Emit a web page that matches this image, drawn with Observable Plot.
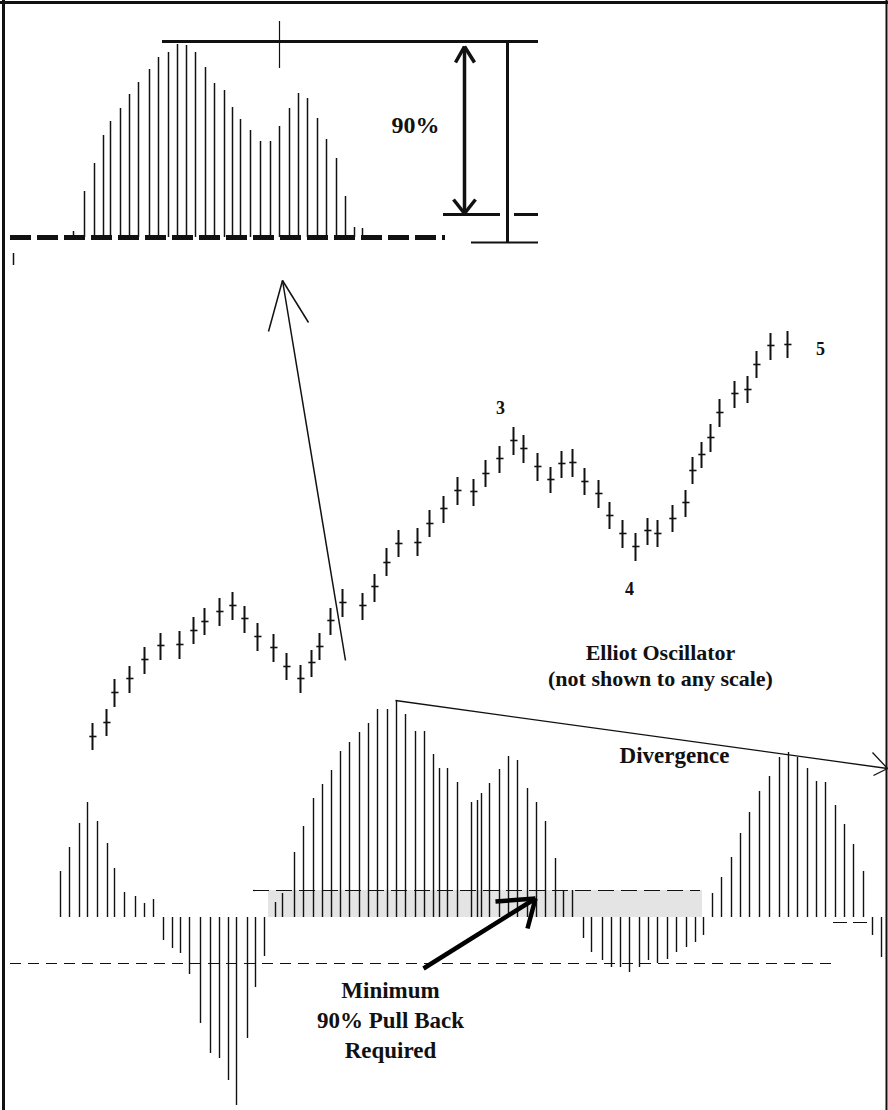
<!DOCTYPE html>
<html><head><meta charset="utf-8">
<script src="https://cdn.jsdelivr.net/npm/d3@7"></script>
<script src="https://cdn.jsdelivr.net/npm/@observablehq/plot@0.6"></script>
<style>
body{margin:0;background:#fff;}
#chart{position:relative;width:888px;height:1110px;overflow:hidden;background:#fff;}
#chart svg{position:absolute;left:0;top:0;}
</style></head><body><div id="chart"></div>
<script>
// ---------- Price bars (wave 1..5) ----------
const priceT = [92,106,114,129,144,160,179,193,204,219,232,244,257,273,286,300,311,319,330,342,362,374,386,398,417,429,443,457,473,485,499,513,523,537,550,561,572,584,598,609,622,635,647,657,672,685,692,701,710,719,734,747,756,770,787];
const priceHigh = [55.4,58.2,64.2,66.8,70.6,73.4,73.8,76.6,78.4,80.4,81.6,78.8,75.4,73.2,69.4,67.0,70.0,73.4,78.4,82.2,81.4,85.2,90.4,94.0,94.4,98.0,100.8,104.6,104.2,108.0,110.8,114.6,113.0,109.4,106.6,109.8,110.2,106.4,104.0,99.6,96.0,93.4,96.4,96.0,99.0,102.0,108.6,111.6,115.2,120.2,123.8,124.8,129.8,133.4,133.8];
const priceLow = [50.0,52.8,58.6,61.4,65.2,68.0,68.2,71.2,73.0,74.8,76.0,73.4,69.8,67.6,64.0,61.4,64.6,68.0,73.0,76.6,76.0,79.6,84.8,88.6,88.8,92.6,95.4,99.0,98.8,102.6,105.4,109.0,107.4,103.8,101.4,104.4,104.6,101.0,98.4,94.2,90.4,87.8,91.0,90.6,93.6,96.6,103.2,106.4,109.6,114.6,118.4,119.4,124.4,128.0,128.4];
const priceClose = [52.8,55.6,61.6,64.4,68.2,71.0,71.2,74.0,75.8,77.8,79.0,76.4,72.8,70.6,66.8,64.4,67.6,70.8,76.0,79.6,79.0,82.8,87.6,91.4,91.6,95.4,98.4,102.0,101.8,105.4,108.4,112.0,110.4,106.8,104.2,107.4,107.6,103.8,101.4,97.0,93.4,90.8,94.0,93.4,96.4,99.6,106.0,109.2,112.6,117.6,121.4,122.2,127.2,131.0,131.2];
const waveLabels = ["3","4","5"];
const waveT = [500,629,820];
const waveP = [118.4,82.2,130.2];

// ---------- Elliott oscillator ----------
const oscT = [60,69,79,87,97,107,114,124,135,144,153,163,172,180,189,200,210,219,228,236,247,255,264,275,282,294,303,313,322,331,340,349,359,368,377,387,396,405,415,424,433,439,447,457,471,477,481,489,499,508,517,527,536,545,555,563,572,583,591,602,611,620,629,639,648,657,667,676,686,695,703,712,721,731,740,749,759,769,779,788,797,807,816,825,835,844,853,863,872,881];
const oscValue = [46,70,94,115,96,74,49,25,21,14,18,-23,-31,-36,-57,-106,-136,-141,-163,-188,-121,-70,-39,15,24,65,91,119,133,147,166,175,185,194,208,208,217,203,186,186,163,149,149,135,115,117,124,134,148,161,157,129,115,96,59,27,27,-21,-35,-43,-50,-50,-55,-50,-43,-46,-42,-35,-30,-25,-18,24,40,60,84,105,126,141,160,165,160,149,136,135,112,93,73,46,-18,-40];
const pullbackLevel = 27;      // 90% pull-back line
const oscReference = -46;      // dashed reference line
const oscLabelLines = ["Elliot Oscillator","(not shown to any scale)"];
const noteLines = ["Minimum","90% Pull Back","Required"];

// ---------- Inset (zoomed oscillator hump) ----------
const insetT = [73,84,94,103,110,120,129,138,149,158,168,177,186,195,205,214,224,232,240,250,260,270,279,289,298,307,317,326,336,345,354,362];
const insetValue = [6,46,74,102,116,129,143,155,168,180,185,193,192,185,170,154,147,130,118,107,96,96,111,129,144,139,119,98,79,41,10,9];
const insetPeak = 196, insetPull = 23, insetFloor = -5;

// ---------- build tables ----------
const price = priceT.map((t,i)=>({t, high:priceHigh[i], low:priceLow[i], close:priceClose[i]}));
const osc = oscT.map((t,i)=>({t, v:oscValue[i]}));
const inset = insetT.map((t,i)=>({t, v:insetValue[i]}));

const tickSymbol = {draw(ctx, size){ const r = Math.sqrt(size/Math.PI); ctx.moveTo(-r*0.8,0); ctx.lineTo(r,0); }};
const font = "Liberation Serif, Times New Roman, serif";
const ink = "#111";

function layer(yDomain, marks){
  return Plot.plot({
    width:888, height:1110, margin:0,
    x:{domain:[0,888], axis:null},
    y:{domain:yDomain, axis:null},
    style:{background:"transparent", overflow:"visible"},
    marks
  });
}
const seg = (x1,y1,x2,y2)=>({x1,y1,x2,y2});

// ---- inset layer ----
const insetSvg = layer([-873, 237], [
  Plot.ruleX([3], {stroke:ink, strokeWidth:3}),
  Plot.ruleX([886], {stroke:ink, strokeWidth:2}),
  Plot.ruleY([235], {stroke:ink, strokeWidth:3}),
  Plot.ruleX(inset, {x:"t", y1:0, y2:"v", stroke:ink, strokeWidth:1.5}),
  Plot.ruleY([0], {x1:10, x2:445, stroke:ink, strokeWidth:5, strokeDasharray:"21,6"}),
  Plot.ruleY([insetPeak], {x1:162, x2:538, stroke:ink, strokeWidth:3}),
  Plot.ruleX([279], {y1:216, y2:169, stroke:ink, strokeWidth:1.2}),
  Plot.ruleX([507], {y1:insetPeak, y2:-6, stroke:ink, strokeWidth:3}),
  Plot.ruleY([insetPull], {x1:443, x2:500, stroke:ink, strokeWidth:3}),
  Plot.ruleY([insetPull], {x1:514, x2:538, stroke:ink, strokeWidth:3}),
  Plot.ruleY([insetFloor], {x1:471, x2:538, stroke:ink, strokeWidth:2}),
  Plot.ruleX([13], {y1:-16, y2:-28, stroke:ink, strokeWidth:1.5}),
  Plot.link([seg(464,191,464,24), seg(455,175,464,191), seg(464,191,474,175), seg(453,38,464,24), seg(464,24,475,38)],
    {x1:"x1",y1:"y1",x2:"x2",y2:"y2", stroke:ink, strokeWidth:3.5}),
  Plot.text(["90%"], {x:415, y:112, fontFamily:font, fontWeight:"bold", fontSize:24, fill:ink})
]);

// ---- price layer ----
const priceSvg = layer([-22, 200], [
  Plot.ruleX(price, {x:"t", y1:"low", y2:"high", stroke:ink, strokeWidth:2}),
  Plot.dot(price, {x:"t", y:"close", symbol:tickSymbol, r:4, stroke:ink, strokeWidth:1.6, fill:"none"}),
  Plot.link([seg(345,68,282,144), seg(268,133.8,282,144), seg(282,144,308,135.6)],
    {x1:"x1",y1:"y1",x2:"x2",y2:"y2", stroke:ink, strokeWidth:1.5}),
  Plot.text(waveLabels, {x:(d,i)=>waveT[i], y:(d,i)=>waveP[i], text:d=>d, fontFamily:font, fontWeight:"bold", fontSize:18, fill:ink})
]);

// ---- oscillator layer ----
const oscSvg = layer([-193, 917], [
  Plot.rect([{x1:268, x2:702, y1:0, y2:pullbackLevel}], {x1:"x1", x2:"x2", y1:"y1", y2:"y2", fill:"#e4e4e4"}),
  Plot.ruleY([pullbackLevel], {x1:253, x2:700, stroke:ink, strokeWidth:1.2, strokeDasharray:"16,7"}),
  Plot.ruleY([oscReference], {x1:10, x2:832, stroke:ink, strokeWidth:1.2, strokeDasharray:"11,7"}),
  Plot.ruleY([-5], {x1:833, x2:870, stroke:ink, strokeWidth:1.2, strokeDasharray:"14,6"}),
  Plot.ruleX(osc, {x:"t", y1:0, y2:"v", stroke:ink, strokeWidth:1.4}),
  Plot.link([seg(395,217,887,149), seg(872,165,887,149), seg(887,149,873,142)],
    {x1:"x1",y1:"y1",x2:"x2",y2:"y2", stroke:ink, strokeWidth:1.3}),
  Plot.link([seg(423,-51,535,19), seg(495,16,535,19), seg(535,19,527,-11)],
    {x1:"x1",y1:"y1",x2:"x2",y2:"y2", stroke:"#000", strokeWidth:4.5}),
  Plot.text(oscLabelLines, {x:660, y:(d,i)=>[265,239][i], text:d=>d, fontFamily:font, fontWeight:"bold", fontSize:22, fill:ink}),
  Plot.text(["Divergence"], {x:674, y:162, fontFamily:font, fontWeight:"bold", fontSize:23, fill:ink}),
  Plot.text(noteLines, {x:390, y:(d,i)=>[-73,-103,-133][i], text:d=>d, fontFamily:font, fontWeight:"bold", fontSize:23, fill:ink})
]);

const root = document.getElementById("chart");
root.append(oscSvg, priceSvg, insetSvg);
</script>
</body></html>
